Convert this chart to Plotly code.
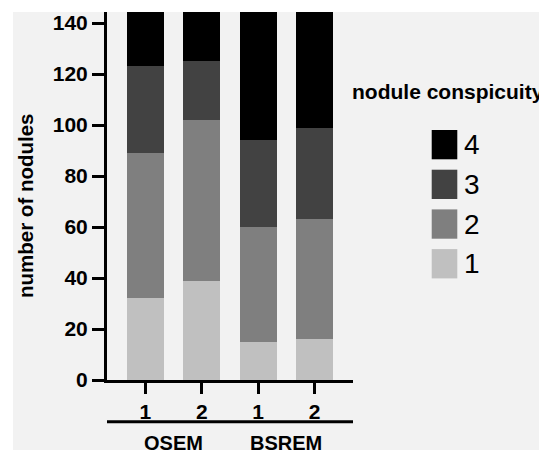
import plotly.graph_objects as go

# ---- data ----
categories = ["1", "2", "1", "2"]
groups = ["OSEM", "OSEM", "BSREM", "BSREM"]
levels = ["1", "2", "3", "4"]
counts_1 = [32, 39, 15, 16]
counts_2 = [57, 63, 45, 47]
counts_3 = [34, 23, 34, 36]
counts_4 = [38, 36, 67, 62]
series = {"1": counts_1, "2": counts_2, "3": counts_3, "4": counts_4}
colors = {"1": "#c0c0c0", "2": "#7f7f7f", "3": "#424242", "4": "#000000"}
y_ticks = [0, 20, 40, 60, 80, 100, 120, 140]
y_title = "number of nodules"
legend_title = "nodule conspicuity"

W, H = 539, 450
L, R, T, B = 107, 186, 12, 70
PW, PH = W - L - R, H - T - B


def px(x):
    return (x - L) / PW


def py(y):
    return (H - B - y) / PH


positions = list(range(len(categories)))
FONT = "Liberation Sans, Arial, Helvetica, sans-serif"

fig = go.Figure()
for lv in levels:
    fig.add_trace(go.Bar(
        x=positions, y=series[lv], name=lv,
        marker=dict(color=colors[lv], line=dict(width=0)),
        width=0.663, showlegend=False,
    ))

shapes = []
annotations = []

# white strips (top/left) of the picture
shapes.append(dict(type="rect", xref="paper", yref="paper", x0=px(-5), x1=px(13),
                   y0=py(H + 5), y1=py(-5), fillcolor="white", line=dict(width=0), layer="below"))
shapes.append(dict(type="rect", xref="paper", yref="paper", x0=px(-5), x1=px(W + 5),
                   y0=py(12), y1=py(-5), fillcolor="white", line=dict(width=0), layer="below"))

# group separator line
shapes.append(dict(type="line", xref="paper", yref="paper", x0=0, x1=1,
                   y0=py(421.7), y1=py(421.7), line=dict(color="black", width=3)))

# group labels
seen = []
for g in groups:
    if g not in seen:
        seen.append(g)
for g in seen:
    xs = [p for p, gg in zip(positions, groups) if gg == g]
    annotations.append(dict(x=sum(xs) / len(xs), xref="x", y=py(443), yref="paper",
                            text=g, showarrow=False, xanchor="center", yanchor="middle",
                            font=dict(family=FONT, size=20, color="black", weight="bold")))

# y title
annotations.append(dict(x=px(25), y=py(206), xref="paper", yref="paper", text=y_title,
                        textangle=-90, showarrow=False, xanchor="center", yanchor="middle",
                        font=dict(family=FONT, size=20.5, color="black", weight="bold")))

# legend
annotations.append(dict(x=px(350), y=py(92), xref="paper", yref="paper", text=legend_title,
                        xanchor="left", yanchor="middle", showarrow=False,
                        font=dict(family=FONT, size=21, color="black", weight="bold")))
for i, lv in enumerate(reversed(levels)):
    top = 130 + i * 39.7
    shapes.append(dict(type="rect", xref="paper", yref="paper", x0=px(431.7), x1=px(457.3),
                       y0=py(top + 29.3), y1=py(top), fillcolor=colors[lv],
                       line=dict(width=0)))
    annotations.append(dict(x=px(462), y=py(top + 14.7), xref="paper", yref="paper",
                            text=lv, xanchor="left", yanchor="middle", showarrow=False,
                            font=dict(family=FONT, size=28, color="black")))

fig.update_layout(
    width=W, height=H,
    margin=dict(l=L, r=R, t=T, b=B),
    paper_bgcolor="#f2f2f2", plot_bgcolor="#f2f2f2",
    barmode="stack", bargap=0,
    shapes=shapes, annotations=annotations,
    font=dict(family=FONT, color="black"),
)
fig.update_xaxes(
    range=[-0.68, len(categories) - 1 + 0.68],
    tickmode="array", tickvals=positions, ticktext=categories,
    showline=True, linecolor="black", linewidth=3,
    ticks="outside", ticklen=11, tickwidth=3, tickcolor="black",
    tickfont=dict(family=FONT, size=21, color="black", weight="bold"),
    showgrid=False, zeroline=False,
)
fig.update_yaxes(
    range=[0, PH / 2.55],
    tickmode="array", tickvals=y_ticks,
    showline=True, linecolor="black", linewidth=3,
    ticks="outside", ticklen=12, tickwidth=3, tickcolor="black",
    tickfont=dict(family=FONT, size=21, color="black", weight="bold"),
    showgrid=False, zeroline=False,
)

fig.write_html(
    "out.html", config={"displayModeBar": False},
    post_script=("document.body.style.margin='0';document.body.style.overflow='hidden';"
                 "document.body.style.background='#f2f2f2';"
                 "document.documentElement.style.background='#f2f2f2';"),
)
